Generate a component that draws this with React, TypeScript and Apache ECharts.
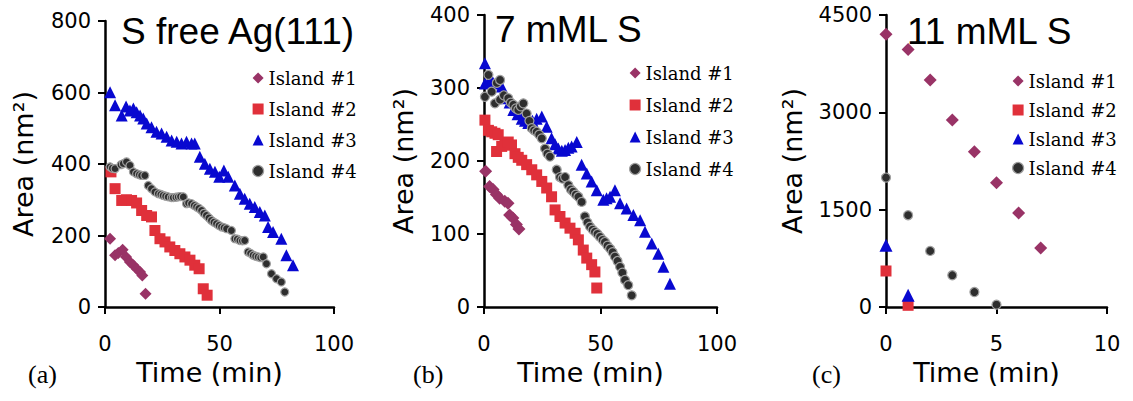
import React, { useEffect, useRef } from "react";
import * as echarts from "echarts";

// ---------- data ----------
const seriesNames = ["Island #1", "Island #2", "Island #3", "Island #4"];
const panelTitles = ["S free Ag(111)", "7 mML S", "11 mML S"];
const panelTags = ["(a)", "(b)", "(c)"];
const xTicks = [[0, 50, 100], [0, 50, 100], [0, 5, 10]];
const yTicksA = [0, 200, 400, 600, 800];
const yTicksB = [0, 100, 200, 300, 400];
const yTicksC = [0, 1500, 3000, 4500];

// panel (a): S free Ag(111)  [time (min), area (nm2)]
const a1: number[][] = [
  [2.2, 191], [4.4, 145], [5.8, 151], [7.7, 160], [9.2, 140], [10.9, 126],
  [12.4, 117], [13.8, 107], [15.3, 98], [16.3, 88], [17.7, 37],
];
const a2: number[][] = [
  [2.6, 378], [4.4, 331], [7.3, 298], [9.4, 300], [11.6, 298], [13.8, 291],
  [16, 270], [18.2, 256], [20.3, 252], [21.8, 214], [24, 191], [26.2, 182],
  [28.3, 168], [30.5, 158], [32.7, 149], [34.9, 140], [37.1, 131], [39.2, 117],
  [41.1, 107], [42.9, 51], [44.6, 33],
];
const a3: number[][] = [
  [2.2, 601], [4.4, 564], [7.3, 536], [9.2, 561], [10.9, 550], [12.4, 555],
  [13.8, 545], [15.3, 536], [16.7, 527], [18.2, 513], [20.3, 503], [22.5, 490],
  [24.7, 485], [26.9, 476], [29.1, 466], [31.3, 462], [33.4, 457], [35.6, 462],
  [37.8, 457], [39.2, 457], [41.4, 420], [43.6, 401], [45.8, 387], [48, 378],
  [49.9, 364], [51.9, 382], [53.8, 364], [56.7, 340], [58.9, 317], [61, 303],
  [63.2, 289], [65.4, 280], [67.6, 266], [69.8, 256], [71.2, 224], [73.4, 210],
  [77, 191], [79.2, 145], [82.1, 117],
];
const a4: number[][] = [
  [2.2, 392], [3.2, 388], [4.4, 387], [7, 398], [8, 401], [9.4, 406], [10.9, 396],
  [12.4, 378], [13.8, 373], [15, 370], [16, 368], [17.4, 368], [18.9, 340],
  [20.3, 331], [21.8, 322], [23.3, 317], [24.4, 315], [25.4, 312], [26.5, 310],
  [27.6, 308], [29, 306], [29.8, 306], [31, 307], [32, 308], [33, 309], [34.2, 308],
  [35.6, 289], [36.5, 291], [37.8, 289], [39, 284], [40, 280], [41, 276], [42.2, 270],
  [43.2, 262], [44.3, 256], [45.4, 249], [46.5, 242], [47.6, 237], [48.7, 233],
  [49.8, 228], [50.9, 224], [52, 222], [53.1, 219], [55.2, 214], [56.7, 191],
  [57.8, 190], [58.9, 186], [60, 185], [61, 186], [62.5, 154], [63.6, 150],
  [64.7, 145], [65.8, 142], [66.9, 140], [68, 138], [69.1, 140], [70.5, 121],
  [72.7, 93], [74.9, 79], [77, 70], [78.5, 42],
];

// panel (b): 7 mML S
const b1: number[][] = [
  [0.7, 186], [2.4, 165], [3.9, 161], [5.3, 154], [6.7, 149], [8.9, 145],
  [10.3, 142], [11, 126], [12.4, 122], [13.9, 113], [15, 107],
];
const b2: number[][] = [
  [0.4, 256], [1.9, 242], [3.3, 240], [4.7, 238], [6.1, 236], [5.4, 213],
  [7.6, 220], [9, 222], [10.4, 226], [11.8, 222], [13.3, 210], [14.7, 205],
  [16.2, 201], [18.3, 195], [20.5, 188], [22.6, 181], [24.8, 172], [26.9, 163],
  [29, 151], [30.5, 133], [32.6, 124], [34.8, 115], [36.9, 108], [39.1, 101],
  [40.5, 92], [42.6, 78], [44.1, 67], [46.2, 58], [47.6, 48], [48.4, 26],
];
const b3: number[][] = [
  [0.4, 334], [0.4, 306], [1.8, 308], [3.3, 311], [5.4, 306], [7.6, 302],
  [9.7, 286], [11, 280], [12.6, 270], [14.4, 264], [16.2, 258], [17.6, 255],
  [19, 252], [20.8, 255], [22.6, 258], [24.8, 261], [26.9, 247], [29, 231],
  [30.5, 223], [31.9, 217], [33.4, 214], [34.8, 215], [36.2, 218], [37.6, 220],
  [39.8, 226], [41.9, 195], [44.1, 183], [46.2, 172], [48.4, 160], [51.2, 147],
  [52.6, 149], [54.1, 151], [56.2, 160], [58.4, 142], [61.2, 135], [64.1, 126],
  [67, 119], [69.1, 103], [72, 87], [74.8, 73], [77, 55], [79.8, 32],
];
const b4: number[][] = [
  [0.4, 288], [1.9, 318], [3.3, 295], [4.7, 279], [5.5, 307], [6.9, 311],
  [6.9, 284], [8.5, 290], [10.4, 286], [11.5, 280], [12.6, 277], [13.7, 272],
  [14.7, 270], [15.8, 275], [16.9, 279], [18.3, 265], [19.5, 255], [20.5, 245],
  [21.5, 242], [22.6, 240], [23.7, 236], [24.8, 231], [26.2, 217], [27.2, 210],
  [28.3, 206], [31.2, 188], [32.6, 178], [33.7, 176], [34.8, 178], [36.2, 167],
  [37.3, 161], [38.3, 158], [39.4, 154], [40.5, 151], [41.9, 144], [43.3, 124],
  [44.4, 116], [45.5, 110], [46.6, 106], [47.6, 103], [48.7, 100], [49.8, 96],
  [50.9, 92], [51.9, 89], [53, 84], [54.1, 80], [55.2, 75], [56.2, 69],
  [57.3, 63], [58.4, 55], [59.4, 47], [60.5, 37], [61.9, 30], [63.4, 16],
];

// panel (c): 11 mML S
const c1: number[][] = [
  [0, 4202], [1, 3970], [2, 3497], [3, 2880], [4, 2391], [5, 1913], [6, 1450], [7, 910],
];
const c2: number[][] = [[0, 555], [1, 26]];
const c3: number[][] = [[0, 951], [1, 180]];
const c4: number[][] = [
  [0, 1995], [1, 1414], [2, 864], [3, 489], [4, 231], [5, 36],
];

const panelData = [
  [a1, a2, a3, a4],
  [b1, b2, b3, b4],
  [c1, c2, c3, c4],
];
const yTickSets = [yTicksA, yTicksB, yTicksC];

// ---------- styling ----------
const COLORS = ["#993366", "#e0303a", "#0808d0", "#2e2e2e"];
const SYMBOLS = ["diamond", "rect", "triangle", "circle"];
const SYMBOL_SIZES = [
  [12, 11, 12, 8],
  [13, 11, 12, 9],
  [13, 11, 13, 9],
];

const grids = [
  { left: 105, top: 21, width: 229, height: 286 },
  { left: 484, top: 15, width: 233, height: 292 },
  { left: 886, top: 15, width: 221, height: 292 },
];
const yNameGaps = [68, 67, 80];
const legendPos = [
  { left: 247, top: 63, itemGap: 11 },
  { left: 624, top: 58, itemGap: 12 },
  { left: 1007, top: 66, itemGap: 9 },
];
const titlePos = [
  { left: 121, top: 13 },
  { left: 495, top: 11 },
  { left: 907, top: 13 },
];
const tagPos = [28, 413, 812];

const SANS = "DejaVu Sans, Verdana, sans-serif";

function markerStyle(k: number) {
  return k === 3
    ? { color: COLORS[k], borderColor: "#a0a0a0", borderWidth: 1.2, opacity: 1 }
    : { color: COLORS[k], opacity: 1 };
}

export default function App() {
  const ref = useRef<HTMLDivElement>(null);

  useEffect(() => {
    document.body.style.margin = "0";
    if (!ref.current) return;
    const chart = echarts.init(ref.current, undefined, { renderer: "svg" });

    const xAxes = grids.map((_, i) => {
      const ticks = xTicks[i];
      return {
        type: "value",
        gridIndex: i,
        min: ticks[0],
        max: ticks[ticks.length - 1],
        interval: ticks[1] - ticks[0],
        name: "Time (min)",
        nameLocation: "middle",
        nameGap: 52,
        nameTextStyle: {
          fontFamily: SANS,
          fontSize: 27,
          color: "#000",
          padding: [0, 20, 0, 0],
        },
        axisLine: { show: true, onZero: false, lineStyle: { color: "#000", width: 2.5 } },
        axisTick: { show: true, inside: false, length: 7, lineStyle: { color: "#000", width: 2 } },
        axisLabel: {
          margin: 26,
          fontFamily: SANS,
          fontSize: 21,
          color: "#000",
          formatter: (v: number) => String(v),
        },
        splitLine: { show: false },
      };
    });

    const yAxes = grids.map((_, i) => {
      const ticks = yTickSets[i];
      return {
        type: "value",
        gridIndex: i,
        min: ticks[0],
        max: ticks[ticks.length - 1],
        interval: ticks[1] - ticks[0],
        name: "Area (nm²)",
        nameLocation: "middle",
        nameRotate: 90,
        nameGap: yNameGaps[i],
        nameTextStyle: { fontFamily: SANS, fontSize: 27, color: "#000" },
        axisLine: { show: true, onZero: false, lineStyle: { color: "#000", width: 2.5 } },
        axisTick: { show: true, inside: false, length: 7, lineStyle: { color: "#000", width: 2 } },
        axisLabel: {
          margin: 14,
          fontFamily: SANS,
          fontSize: 21,
          color: "#000",
          formatter: (v: number) => String(v),
        },
        splitLine: { show: false },
      };
    });

    const series: any[] = [];
    panelData.forEach((islands, p) => {
      islands.forEach((pts, k) => {
        series.push({
          type: "scatter",
          name: seriesNames[k],
          xAxisIndex: p,
          yAxisIndex: p,
          data: pts,
          symbol: SYMBOLS[k],
          symbolSize: SYMBOL_SIZES[p][k],
          itemStyle: markerStyle(k),
          emphasis: { disabled: true },
          z: 2 + k,
        });
      });
    });

    const legends = legendPos.map((lp) => ({
      orient: "vertical",
      left: lp.left,
      top: lp.top,
      itemGap: lp.itemGap,
      itemWidth: 11,
      itemHeight: 11,
      selectedMode: false,
      textStyle: {
        fontFamily: "DejaVu Serif, serif",
        fontSize: 18,
        lineHeight: 20,
        color: "#000",
      },
      data: seriesNames.map((n, k) => ({
        name: n,
        icon: SYMBOLS[k],
        itemStyle: markerStyle(k),
      })),
    }));

    const titles = panelTitles.map((t, i) => ({
      text: t,
      left: titlePos[i].left,
      top: titlePos[i].top,
      padding: 0,
      textStyle: {
        fontFamily: "Liberation Sans, Arial, sans-serif",
        fontSize: 37,
        fontWeight: "normal",
        color: "#000",
      },
    }));

    const graphic = panelTags.map((t, i) => ({
      type: "text",
      left: tagPos[i],
      top: 361,
      style: {
        text: t,
        font: "26px 'Liberation Serif', 'Times New Roman', serif",
        fill: "#000",
      },
    }));

    chart.setOption({
      animation: false,
      backgroundColor: "#fff",
      title: titles,
      legend: legends,
      grid: grids,
      xAxis: xAxes,
      yAxis: yAxes,
      series,
      graphic,
    });

    return () => chart.dispose();
  }, []);

  return <div ref={ref} style={{ width: 1133, height: 401 }} />;
}
